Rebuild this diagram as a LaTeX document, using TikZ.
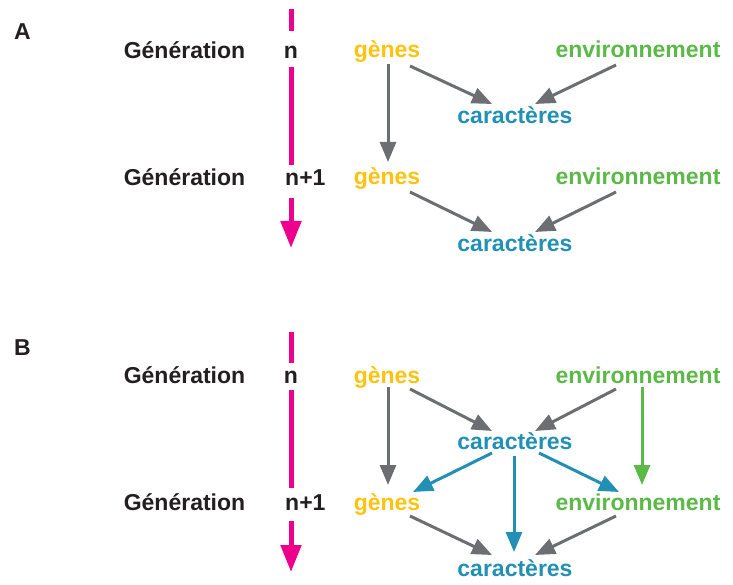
\documentclass[tikz,border=0pt]{standalone}
\usepackage{fontspec}
\setmainfont{Liberation Sans}
\usetikzlibrary{arrows.meta}
\definecolor{ink}{HTML}{231F20}
\definecolor{gold}{HTML}{FFC20E}
\definecolor{grn}{HTML}{5BB947}
\definecolor{blu}{HTML}{2290B5}
\definecolor{gry}{HTML}{6D6E71}
\definecolor{pnk}{HTML}{EC008C}
\begin{document}
\begin{tikzpicture}[x=1pt,y=-1pt,
  txt/.style={inner sep=0pt, font=\fontsize{23}{26}\selectfont\bfseries, anchor=base},
  lbl/.style={txt, text=ink},
  gen/.style={txt, text=gold},
  env/.style={txt, text=grn},
  car/.style={txt, text=blu},
  garr/.style={draw=gry, line width=3pt, -{Triangle[length=20pt,width=16pt]}},
  barr/.style={draw=blu, line width=3pt, -{Triangle[length=20pt,width=16pt]}},
  earr/.style={draw=grn, line width=3pt, -{Triangle[length=20pt,width=16pt]}},
  pline/.style={draw=pnk, line width=5pt},
  parr/.style={draw=pnk, line width=5pt, -{Triangle[length=27pt,width=20pt]}}
]
\useasboundingbox (0,0) rectangle (733,585);

% ---------- A ----------
\node[lbl] (labA) at (22.5,40) {A};
\node[lbl] (gA1) at (184.5,59) {Génération};
\node[lbl] (nA1) at (291,59) {n};
\node[lbl] (gA2) at (184.5,186) {Génération};
\node[lbl, anchor=base west] (nA2) at (285,186) {n+1};

\node[gen] (geA1) at (387,58) {gènes};
\node[env] (enA1) at (638,58) {environnement};
\node[car] (caA1) at (515,124) {caractères};
\node[gen] (geA2) at (387,185) {gènes};
\node[env] (enA2) at (638,185) {environnement};
\node[car] (caA2) at (515,252) {caractères};

\coordinate (pA0) at (291,9);
\coordinate (pA1) at (291,248);
\draw[pline] (pA0) -- ([shift={(0,-28)}]nA1.base);
\draw[pline] ([shift={(0,8)}]nA1.base) -- ([shift={(6,-21)}]nA2.base west);
\draw[parr] ([shift={(6,12)}]nA2.base west) -- (pA1);

\draw[garr] ([shift={(23,8)}]geA1.base) -- ([shift={(-23,-20)}]caA1.base);
\draw[garr] ([shift={(-22,7)}]enA1.base) -- ([shift={(20,-20)}]caA1.base);
\draw[garr] ([shift={(1,6)}]geA1.base) -- ([shift={(1,-23)}]geA2.base);
\draw[garr] ([shift={(23,7)}]geA2.base) -- ([shift={(-23,-20)}]caA2.base);
\draw[garr] ([shift={(-22,7)}]enA2.base) -- ([shift={(20,-20)}]caA2.base);

% ---------- B ----------
\node[lbl] (labB) at (22.5,355) {B};
\node[lbl] (gB1) at (184.5,383) {Génération};
\node[lbl] (nB1) at (291,383) {n};
\node[lbl] (gB2) at (184.5,510) {Génération};
\node[lbl, anchor=base west] (nB2) at (285,510) {n+1};

\node[gen] (geB1) at (387,383) {gènes};
\node[env] (enB1) at (638,383) {environnement};
\node[car] (caB1) at (515,449) {caractères};
\node[gen] (geB2) at (387,510) {gènes};
\node[env] (enB2) at (638,510) {environnement};
\node[car] (caB2) at (515,576) {caractères};

\coordinate (pB0) at (291,332);
\coordinate (pB1) at (291,572);
\draw[pline] (pB0) -- ([shift={(0,-20)}]nB1.base);
\draw[pline] ([shift={(0,7)}]nB1.base) -- ([shift={(6,-22)}]nB2.base west);
\draw[parr] ([shift={(6,11)}]nB2.base west) -- (pB1);

\draw[garr] ([shift={(23,6)}]geB1.base) -- ([shift={(-23,-18)}]caB1.base);
\draw[garr] ([shift={(-22,6)}]enB1.base) -- ([shift={(20,-18)}]caB1.base);
\draw[garr] ([shift={(1,4)}]geB1.base) -- ([shift={(1,-25)}]geB2.base);
\draw[earr] ([shift={(4,4)}]enB1.base) -- ([shift={(4,-25)}]enB2.base);
\draw[barr] ([shift={(-23,4)}]caB1.base) -- ([shift={(26,-18)}]geB2.base);
\draw[barr] ([shift={(-1,7)}]caB1.base) -- ([shift={(-1,-24)}]caB2.base);
\draw[barr] ([shift={(24,4)}]caB1.base) -- ([shift={(-19,-18)}]enB2.base);
\draw[garr] ([shift={(23,6)}]geB2.base) -- ([shift={(-23,-21)}]caB2.base);
\draw[garr] ([shift={(-22,6)}]enB2.base) -- ([shift={(20,-21)}]caB2.base);
\end{tikzpicture}
\end{document}
